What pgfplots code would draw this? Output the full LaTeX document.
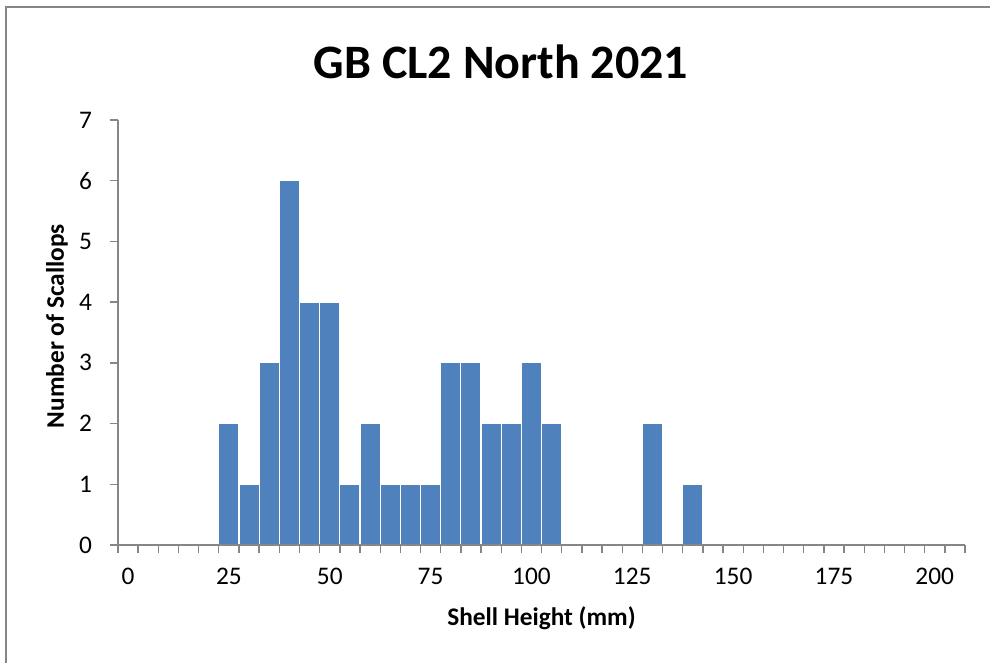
\documentclass[border=0pt]{standalone}
\usepackage{pgfplots}
\pgfplotsset{compat=1.18}
\usepackage{fontspec}
\setmainfont{Carlito}
\definecolor{barblue}{HTML}{4F81BD}
\definecolor{axisgray}{HTML}{868686}
\begin{document}
\begin{tikzpicture}
\path[use as bounding box] (0,0) rectangle (742.5pt,496.5pt);
\draw[axisgray, line width=1.5pt] (4.5pt,-5pt) -- (4.5pt,491.25pt) -- (750pt,491.25pt);
\node[font=\fontsize{36}{40}\selectfont\bfseries] at (375.75pt,450pt) {GB CL2 North 2021};
\begin{axis}[
  at={(88.5pt,87.75pt)}, anchor=south west,
  scale only axis, width=635.25pt, height=318.75pt,
  xmin=-2.5, xmax=207.5, ymin=0, ymax=7,
  axis x line*=bottom, axis y line*=left,
  axis line style={axisgray, line width=1pt},
  tick style={axisgray, line width=1pt},
  tick align=outside,
  axis on top,
  xtick={0,25,...,200},
  major x tick style={draw=none},
  minor xtick={-2.5,2.5,...,207.5},
  minor tick length=6pt,
  ytick={0,1,...,7},
  major tick length=6pt,
  /pgf/number format/assume math mode=true,
  ticklabel style={font=\fontsize{19}{22}\selectfont, text=black},
  xticklabel style={yshift=-8pt},
  yticklabel style={xshift=-10pt},
  xlabel={Shell Height (mm)},
  ylabel={Number of Scallops},
  label style={font=\fontsize{19}{22}\selectfont\bfseries},
  xlabel style={at={(axis description cs:0.5,-0.172)}, anchor=center},
  ylabel style={at={(axis description cs:-0.072,0.515)}, anchor=center, rotate=0},
  ybar, bar width=5, bar shift=0pt,
  clip=false,
]
\addplot[fill=barblue, draw=white, line width=0.8pt] coordinates {
(25,2) (30,1) (35,3) (40,6) (45,4) (50,4) (55,1) (60,2) (65,1) (70,1) (75,1)
(80,3) (85,3) (90,2) (95,2) (100,3) (105,2) (130,2) (140,1)
};
\end{axis}
\end{tikzpicture}
\end{document}
